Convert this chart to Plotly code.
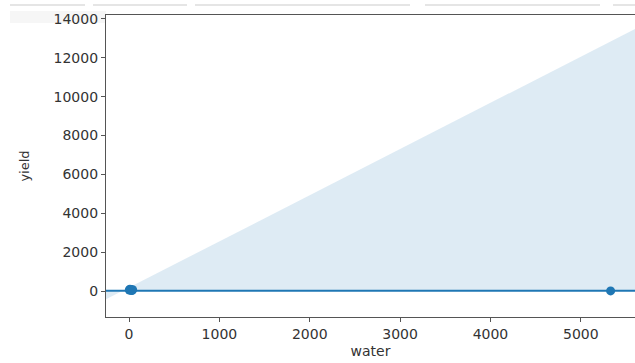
import plotly.graph_objects as go

# data
water = [3, 10, 18, 25, 32, 40, 5330]
yield_ = [60, 100, 40, 80, 30, 70, 10]

# regression line (near-flat) and confidence band edges
fit_x = [-255, 5600]
fit_y = [20, 20]
band_x = [-255, -255, 5600, 5600]
band_y = [20, -420, 13480, 20]

x_ticks = [0, 1000, 2000, 3000, 4000, 5000]
y_ticks = [0, 2000, 4000, 6000, 8000, 10000, 12000, 14000]

blue = "#1f77b4"

fig = go.Figure()
fig.add_trace(go.Scatter(
    x=band_x, y=band_y, mode="lines", fill="toself",
    fillcolor="rgba(31,119,180,0.15)", line=dict(width=0),
    hoverinfo="skip", showlegend=False))
fig.add_trace(go.Scatter(
    x=fit_x, y=fit_y, mode="lines", line=dict(color=blue, width=2),
    showlegend=False))
fig.add_trace(go.Scatter(
    x=water, y=yield_, mode="markers",
    marker=dict(color=blue, size=9, line=dict(width=0)),
    showlegend=False))

axis_common = dict(
    showgrid=False, zeroline=False, showline=True, linecolor="#555",
    linewidth=1.3, mirror=True, ticks="outside", ticklen=4, tickwidth=1.2,
    tickcolor="#555", automargin=False,
    tickfont=dict(family="DejaVu Sans", size=14, color="#333"),
)

fig.update_xaxes(range=[-255, 5600], tickvals=x_ticks,
                 ticktext=[str(v) for v in x_ticks],
                 title=dict(text="water", standoff=5,
                            font=dict(family="DejaVu Sans", size=14, color="#333")),
                 **axis_common)
fig.update_yaxes(range=[-1330, 14200], tickvals=y_ticks,
                 ticktext=[str(v) for v in y_ticks],
                 title=dict(text="yield", standoff=20,
                            font=dict(family="DejaVu Sans", size=13, color="#333")),
                 **axis_common)

# faint screenshot artifacts at the very top
shapes = []
for x0, x1 in [(10, 85), (93, 187), (195, 410), (425, 600), (613, 635)]:
    shapes.append(dict(type="line", xref="paper", yref="paper",
                       x0=(x0 - 106) / 529, x1=(x1 - 106) / 529,
                       y0=1 + 10 / 302, y1=1 + 10 / 302,
                       line=dict(color="#dcdcdc", width=1.5)))
shapes.append(dict(type="rect", xref="paper", yref="paper", layer="below",
                   x0=(10 - 106) / 529, x1=0,
                   y0=1 - 8 / 302, y1=1 + 4 / 302,
                   fillcolor="rgba(0,0,0,0.035)", line=dict(width=0)))
fig.update_layout(shapes=shapes)

fig.update_layout(
    width=635, height=363,
    margin=dict(l=106, r=0, t=15, b=46, autoexpand=False),
    paper_bgcolor="white", plot_bgcolor="white",
    font=dict(family="DejaVu Sans"),
)

fig.write_html("out.html",
               config={"displayModeBar": False},
               post_script="document.body.style.margin='0px';"
                           "document.body.style.overflow='hidden';")
